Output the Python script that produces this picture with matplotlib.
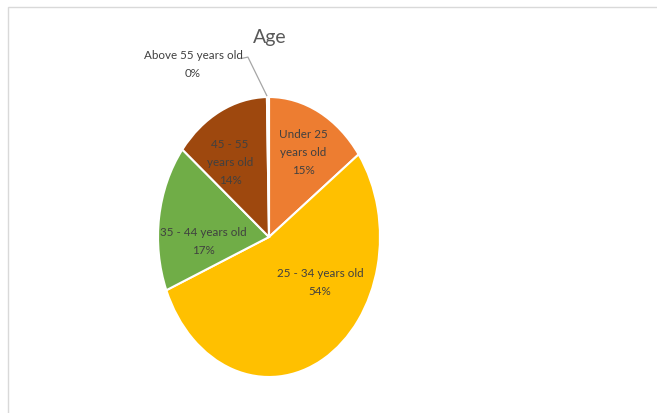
import matplotlib
matplotlib.use("Agg")
import matplotlib.pyplot as plt
from matplotlib.patches import Rectangle

categories = ["Under 25\nyears old", "25 - 34 years old", "35 - 44 years old", "45 - 55\nyears old", "Above 55 years old"]
values = [15, 54, 17, 14, 0.3]
pct_labels = ["15%", "54%", "17%", "14%", "0%"]
colors = ["#ED7D31", "#FFC000", "#70AD47", "#9E480E", "#997300"]

# label layout (axes data coords, pie radius = 1)
label_xy = [(0.31, 0.61), (0.46, -0.32), (-0.595, -0.025), (-0.35, 0.54), (-0.685, 1.24)]

W, H = 657, 414
fig = plt.figure(figsize=(W / 100, H / 100), dpi=100)
fig.patch.set_facecolor("white")

# outer chart frame
fig.patches.append(Rectangle((8 / W, -0.1), 1.2, 1 - 8 / H + 0.1, transform=fig.transFigure,
                             fill=False, edgecolor="#d9d9d9", linewidth=1.0))

cx, cy, rx, ry = 269, 238, 111, 140
ax = fig.add_axes([(cx - rx) / W, (H - cy - ry) / H, 2 * rx / W, 2 * ry / H])
ax.pie(values, colors=colors, startangle=90, counterclock=False,
       wedgeprops=dict(edgecolor="white", linewidth=1.5))
ax.set_aspect("auto")
ax.set_xlim(-1, 1)
ax.set_ylim(-1, 1)
ax.axis("off")

fam = ["Lato", "DejaVu Sans"]
for cat, pct, (x, y) in zip(categories, pct_labels, label_xy):
    ax.text(x, y, f"{cat}\n{pct}", ha="center", va="center", fontsize=8.4,
            color="#404040", family=fam, linespacing=1.75, clip_on=False)

# leader line for the tiny slice
ax.plot([-0.25, -0.19, -0.02], [1.275, 1.285, 1.01], color="#a6a6a6", lw=0.9, clip_on=False)

fig.text(270 / W, 1 - 38 / H, "Age", ha="center", va="center", fontsize=14,
         color="#595959", family=fam)

fig.savefig("out.png", dpi=100)
